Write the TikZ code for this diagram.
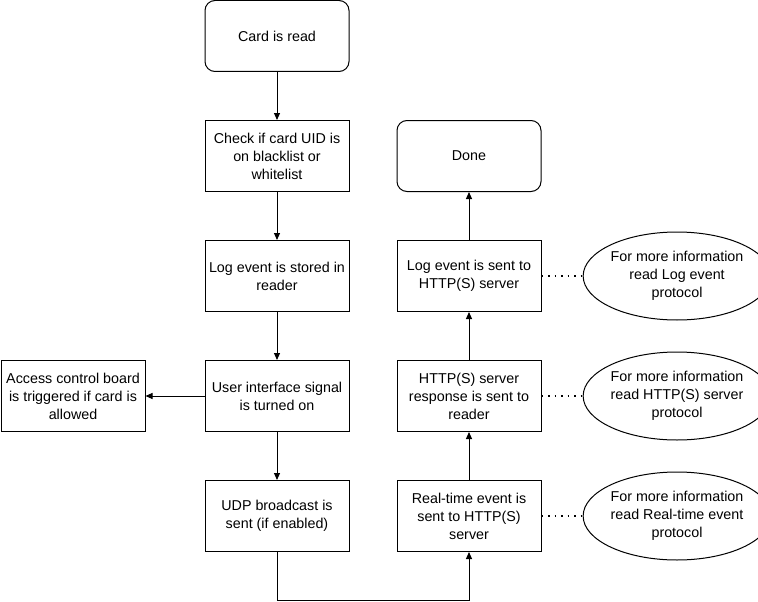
\documentclass[tikz,border=0pt]{standalone}
\usepackage{fontspec}
\setmainfont{Liberation Sans}
\usetikzlibrary{shapes.geometric,arrows.meta}
\begin{document}
\begin{tikzpicture}[x=1pt,y=-1pt,
  box/.style={draw,line width=1pt,minimum width=144pt,minimum height=71pt,inner sep=1pt,align=center,font=\fontsize{14.3}{18}\selectfont},
  rbox/.style={box,rounded corners=10pt},
  ell/.style={draw,ellipse,line width=1pt,minimum width=154pt,minimum height=88pt,inner sep=0pt,align=center,font=\fontsize{14.3}{18}\selectfont},
  arr/.style={-{Triangle[length=7pt,width=6pt]},line width=1pt},
  dot/.style={line width=1.5pt,dash pattern=on 1.5pt off 5pt}]
\useasboundingbox (0,0) rectangle (758,602);
\node[rbox] (card) at (277,36) {Card is read};
\node[box] (check) at (277,156) {Check if card UID is\\on blacklist or\\whitelist};
\node[box] (store) at (277,276) {Log event is stored in\\reader};
\node[box] (ui) at (277,396) {User interface signal\\is turned on};
\node[box] (udp) at (277,516) {UDP broadcast is\\sent (if enabled)};
\node[box] (acc) at (73,396) {Access control board\\is triggered if card is\\allowed};
\node[rbox] (done) at (469,156) {Done};
\node[box] (logs) at (469,276) {Log event is sent to\\HTTP(S) server};
\node[box] (resp) at (469,396) {HTTP(S) server\\response is sent to\\reader};
\node[box] (rt) at (469,516) {Real-time event is\\sent to HTTP(S)\\server};
\node[ell] (e1) at (677,276) {For more information\\read Log event\\protocol};
\node[ell] (e2) at (677,396) {For more information\\read HTTP(S) server\\protocol};
\node[ell] (e3) at (677,516) {For more information\\read Real-time event\\protocol};
\draw[arr] (card) -- (check);
\draw[arr] (check) -- (store);
\draw[arr] (store) -- (ui);
\draw[arr] (ui) -- (udp);
\draw[arr] (ui) -- (acc);
\draw[arr] (udp.south) -- ++(0,48) -| (rt.south);
\draw[arr] (rt) -- (resp);
\draw[arr] (resp) -- (logs);
\draw[arr] (logs) -- (done);
\draw[dot] (logs) -- (e1);
\draw[dot] (resp) -- (e2);
\draw[dot] (rt) -- (e3);
\end{tikzpicture}
\end{document}
